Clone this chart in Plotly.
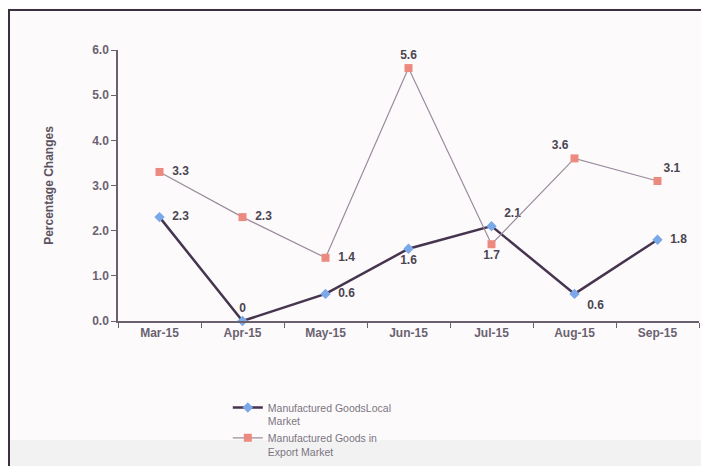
import plotly.graph_objects as go

months = ["Mar-15", "Apr-15", "May-15", "Jun-15", "Jul-15", "Aug-15", "Sep-15"]
local_vals = [2.3, 0.0, 0.6, 1.6, 2.1, 0.6, 1.8]
export_vals = [3.3, 2.3, 1.4, 5.6, 1.7, 3.6, 3.1]
local_text = ["2.3", "0", "0.6", "1.6", "2.1", "0.6", "1.8"]
export_text = ["3.3", "2.3", "1.4", "5.6", "1.7", "3.6", "3.1"]
local_pos = ["middle right", "top center", "middle right", "bottom center", "top right", "bottom right", "middle right"]
export_pos = ["middle right", "middle right", "middle right", "top center", "bottom center", "top left", "top right"]

lab_font = dict(family="Liberation Sans, Arial", size=12, color="#4a4550", weight="bold")

fig = go.Figure()
fig.add_trace(go.Scatter(
    x=months, y=local_vals, mode="lines+markers+text",
    name="Manufactured GoodsLocal<br>Market",
    line=dict(color="#45354f", width=2.5),
    marker=dict(symbol="diamond", size=8, color="#7aa8e8"),
    text=["  " + t if p.endswith("right") else t for t, p in zip(local_text, local_pos)],
    textposition=local_pos,
    textfont=lab_font,
    cliponaxis=False,
))
fig.add_trace(go.Scatter(
    x=months, y=export_vals, mode="lines+markers+text",
    name="Manufactured Goods in<br>Export Market",
    line=dict(color="#9a8c9c", width=1.2),
    marker=dict(symbol="square", size=8, color="#ec8a80"),
    text=["  " + t if p == "middle right" else t for t, p in zip(export_text, export_pos)],
    textposition=export_pos,
    textfont=lab_font,
    cliponaxis=False,
))

fig.update_layout(
    width=701, height=458,
    margin=dict(l=110, r=10, t=42, b=145, autoexpand=False),
    paper_bgcolor="#fdfafc", plot_bgcolor="#fdfafc",
    showlegend=True,
    legend=dict(x=0.189, y=-0.27, xanchor="left", yanchor="top", valign="top",
                font=dict(family="Liberation Sans, Arial", size=10.5, color="#7a7580"),
                bgcolor="rgba(0,0,0,0)"),
    xaxis=dict(type="category", range=[-0.5, 6.5], showgrid=False, showline=True,
               linecolor="#6a6070", linewidth=1.5, automargin=False,
               ticks="outside", tickson="boundaries", ticklen=5, tickcolor="#6a6070",
               tickfont=dict(family="Liberation Sans, Arial", size=12, color="#6a6270", weight="bold")),
    yaxis=dict(range=[0, 6], dtick=1, tickformat=".1f", showgrid=False, zeroline=False,
               showline=True, linecolor="#6a6070", linewidth=1.5, automargin=False,
               ticks="outside", ticklen=5, tickcolor="#6a6070",
               tickfont=dict(family="Liberation Sans, Arial", size=12, color="#6a6270", weight="bold"),
               title=dict(text="Percentage Changes", standoff=36,
                          font=dict(family="Liberation Sans, Arial", size=12, color="#5a5260", weight="bold"))),
    shapes=[
        dict(type="rect", xref="paper", yref="paper", layer="below",
             x0=-0.187, x1=1.2, y0=-0.439, y1=-0.6,
             fillcolor="#f3f2f3", line=dict(width=0)),
        dict(type="rect", xref="paper", yref="paper",
             x0=-0.1876, x1=1.2, y0=-0.6, y1=1.1476,
             line=dict(color="#3a3040", width=2)),
    ],
)

fig.write_html("out.html")
